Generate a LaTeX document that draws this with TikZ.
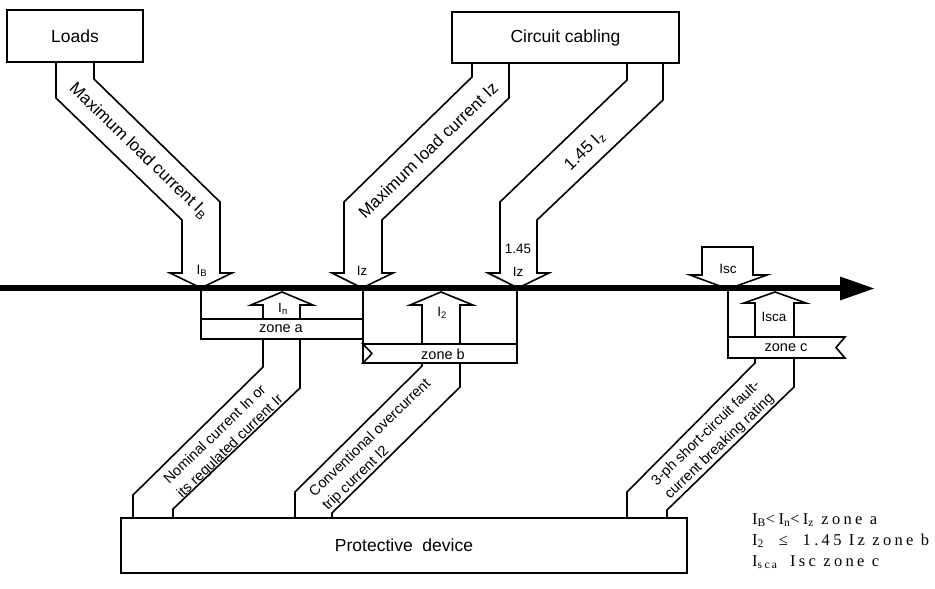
\documentclass[tikz,border=0pt]{standalone}
\usepackage{fontspec}
\setmainfont{Liberation Sans}
\newfontfamily\legendfont[LetterSpace=20]{Liberation Serif}
\begin{document}
\begin{tikzpicture}[x=1pt,y=-1pt,
  edge/.style={line width=1.6pt, line join=miter, line cap=butt},
  band/.style={edge, fill=white},
  boxnode/.style={draw, line width=1.8pt, fill=white, inner sep=0pt, outer sep=0pt,
    font=\fontsize{17.5}{20}\selectfont},
  bandtext/.style={font=\fontsize{17}{19}\selectfont, inner sep=0pt},
  lowtext/.style={font=\fontsize{14.5}{19}\selectfont, inner sep=0pt, align=left},
  tag/.style={font=\fontsize{13.5}{15}\selectfont, inner sep=0pt},
  zonetext/.style={font=\fontsize{14.5}{16}\selectfont, inner sep=0pt},
  drop/.style={line width=1.4pt},
  legend/.style={font=\legendfont\fontsize{16.5}{18}\selectfont, anchor=base west, inner sep=0pt}
]
\useasboundingbox (0,0) rectangle (935,589);

% ---- bands coming down from the top boxes ----
\draw[band] (56,62) -- (56,98) -- (182,220) -- (182,273) -- (170,273) -- (201,288)
  -- (232,273) -- (220,273) -- (220,202) -- (94,79) -- (94,62);
\draw[band] (472,63) -- (472,77) -- (344,202) -- (344,273) -- (332,273) -- (362,288)
  -- (393,273) -- (382,273) -- (382,220) -- (509,98) -- (509,63);
\draw[band] (627,63) -- (627,80) -- (500,202) -- (500,273) -- (488,273) -- (518,288)
  -- (549,273) -- (537,273) -- (537,220) -- (663,100) -- (663,63);

% ---- top boxes ----
\node[boxnode, minimum width=136pt, minimum height=52pt] (loads) at (75,36) {Loads};
\node[boxnode, minimum width=227pt, minimum height=51pt] (cabling) at (565.5,37.5) {Circuit cabling};

% ---- short-circuit current arrow ----
\draw[band] (702,247) -- (753,247) -- (753,275) -- (767,275) -- (728,289) -- (690,275)
  -- (702,275) -- cycle;

% ---- bands rising from the protective device ----
\draw[band] (263,339) -- (263,367) -- (133,495) -- (133,518) -- (173,518) -- (173,509)
  -- (300,388) -- (300,339);
\draw[band] (422,363) -- (422,366) -- (295,492) -- (295,518) -- (332,518) -- (332,513)
  -- (460,387) -- (460,363);
\draw[band] (755,358) -- (755,363) -- (627,492) -- (627,518) -- (667,518) -- (667,510)
  -- (794,387) -- (794,358);

% ---- upward arrows to the axis ----
\draw[band] (263,319) -- (263,305) -- (251,305) -- (282,292) -- (313,305) -- (300,305) -- (300,319);
\draw[band] (422,344) -- (422,305) -- (410,305) -- (441,292) -- (473,305) -- (460,305) -- (460,344);
\draw[band] (755,337) -- (755,303) -- (744,303) -- (775,292) -- (806,303) -- (794,303) -- (794,337);

% ---- zones ----
\draw[band] (201,319) rectangle (363,339);
\draw[band] (363,344) -- (517,344) -- (517,363) -- (363,363) -- (372,353.5) -- cycle;
\draw[band] (728,337) -- (845,337) -- (836,347.5) -- (845,358) -- (728,358) -- cycle;

% ---- drop lines from the axis ----
\draw[drop] (201,288) -- (201,319);
\draw[drop] (363,288) -- (363,363);
\draw[drop] (517,288) -- (517,344);
\draw[drop] (728,288) -- (728,337);

% ---- protective device ----
\node[boxnode, minimum width=566pt, minimum height=55pt] (device) at (404,545.5) {Protective\ \ device};

% ---- current axis ----
\draw[line width=6pt] (0,288) -- (844,288);
\fill (840,276.5) -- (874,288.5) -- (840,300.5) -- cycle;

% ---- band labels ----
\node[bandtext, rotate=-44] at (139,151) {Maximum load current I\textsubscript{B}};
\node[bandtext, rotate=44] at (428,150) {Maximum load current Iz};
\node[bandtext, rotate=44] at (585,151) {1.45 I\textsubscript{z}};
\node[lowtext, rotate=44] at (224,440) {Nominal current In or\\its regulated current Ir};
\node[lowtext, rotate=44] at (377,445) {Conventional overcurrent\\trip current I2};
\node[lowtext, rotate=44] at (713,440) {3-ph short-circuit fault-\\current breaking rating};

% ---- labels on the arrows ----
\node[tag] at (202,271) {I\textsubscript{B}};
\node[tag] at (362,271) {Iz};
\node[tag] at (518,249) {1.45};
\node[tag] at (518,272) {Iz};
\node[tag] at (728,269) {Isc};
\node[tag] at (283,309) {I\textsubscript{n}};
\node[tag] at (442,313) {I\textsubscript{2}};
\node[tag] at (774,317) {Isca};

% ---- zone names ----
\node[zonetext] at (281,329) {zone a};
\node[zonetext] at (443,354) {zone b};
\node[zonetext] at (786,348) {zone c};

% ---- conditions ----
\node[legend] at (752,524) {I\textsubscript{B}<I\textsubscript{n}<I\textsubscript{z}\ zone a};
\node[legend] at (752,545) {I\textsubscript{2}\ \ ≤\ \ 1.45 Iz zone b};
\node[legend] at (752,566) {I\textsubscript{sca}};
\node[legend] at (790,566) {Isc zone c};
\end{tikzpicture}
\end{document}
